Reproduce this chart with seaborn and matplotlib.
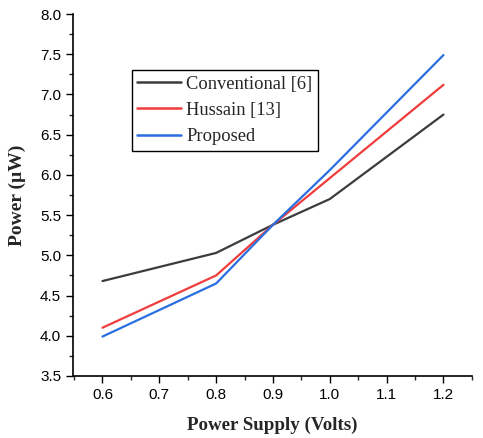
import pandas as pd
import matplotlib
matplotlib.use("Agg")
import matplotlib.pyplot as plt
from matplotlib.ticker import MultipleLocator
import seaborn as sns

# === data ===
supply = [0.6, 0.8, 0.9, 1.0, 1.2]
conventional = [4.68, 5.03, 5.38, 5.70, 6.75]
hussain = [4.10, 4.75, 5.38, 5.96, 7.12]
proposed = [3.99, 4.65, 5.38, 6.06, 7.49]
labels = ["Conventional [6]", "Hussain [13]", "Proposed"]
colors = ["#3c3c3c", "#f03c3c", "#2a6fe0"]

df = pd.DataFrame({
    "supply": supply * 3,
    "power": conventional + hussain + proposed,
    "design": [labels[0]] * 5 + [labels[1]] * 5 + [labels[2]] * 5,
})

sns.set_style("ticks")
plt.rcParams["font.family"] = ["Liberation Sans", "DejaVu Sans"]

fig = plt.figure(figsize=(4.83, 4.38), dpi=100)
ax = fig.add_axes([0.151, 0.1416, 0.826, 0.8264])

sns.lineplot(data=df, x="supply", y="power", hue="design",
             palette=dict(zip(labels, colors)), linewidth=1.6, ax=ax)

ax.set_xlim(0.548, 1.25)
ax.set_ylim(3.5, 8.0)
ax.xaxis.set_minor_locator(MultipleLocator(0.05))
ax.yaxis.set_major_locator(MultipleLocator(0.5))
ax.yaxis.set_minor_locator(MultipleLocator(0.25))
ax.set_xticks([0.6, 0.7, 0.8, 0.9, 1.0, 1.1, 1.2])
ax.set_xticklabels(["0.6", "0.7", "0.8", "0.9", "1.0", "1.1", "1.2"])
ax.tick_params(which="major", direction="out", length=5, width=1, labelsize=11, colors="black")
ax.tick_params(which="minor", direction="out", length=3, width=1)
for s in ["left", "bottom"]:
    ax.spines[s].set_linewidth(1.2)
    ax.spines[s].set_color("black")
sns.despine(ax=ax)

ax.set_xlabel("Power Supply (Volts)", fontfamily="Liberation Serif",
              fontweight="bold", fontsize=13.6, labelpad=11)
ax.set_ylabel("Power (µW)", fontfamily="Liberation Serif",
              fontweight="bold", fontsize=14, labelpad=10)

leg = ax.legend(loc="upper left", bbox_to_anchor=(0.147, 0.845), frameon=True,
                fancybox=False, edgecolor="black", framealpha=1,
                prop={"family": "Liberation Serif", "size": 13.3},
                handlelength=2.4, handletextpad=0.25, borderpad=0.3,
                labelspacing=0.5, borderaxespad=0)
leg.get_frame().set_linewidth(1.0)
for line in leg.get_lines():
    line.set_linewidth(1.8)

fig.savefig("out.png", dpi=100)
